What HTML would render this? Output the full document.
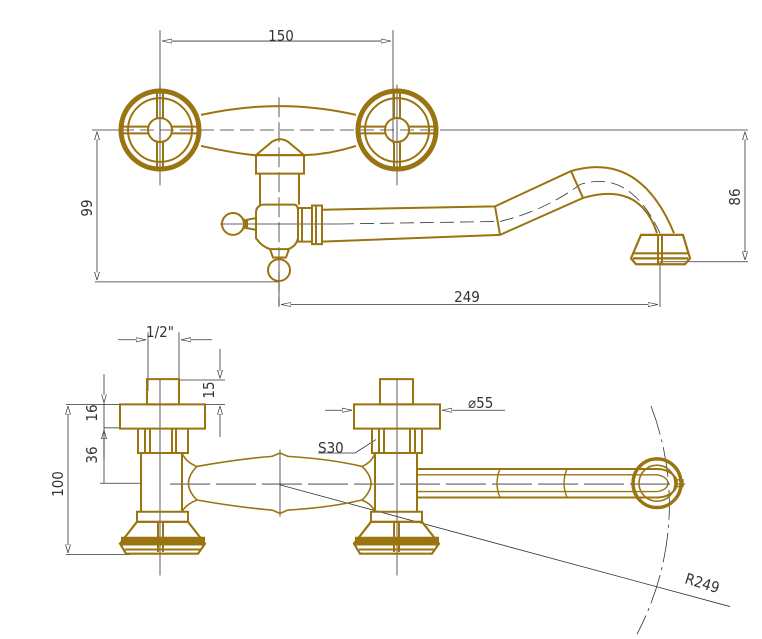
<!DOCTYPE html>
<html><head><meta charset="utf-8"><style>
html,body{margin:0;padding:0;background:#fff;width:762px;height:639px;overflow:hidden}
svg{display:block}
text{font-family:"DejaVu Sans Condensed","DejaVu Sans","Liberation Sans",sans-serif;fill:#333;font-size:15px}
g.t *{vector-effect:non-scaling-stroke}
</style></head><body>
<svg width="762" height="639" viewBox="0 0 762 639" xmlns="http://www.w3.org/2000/svg">
<defs>
<marker id="a" viewBox="0 0 10 6" refX="10" refY="3" markerWidth="10" markerHeight="6" orient="auto-start-reverse" markerUnits="userSpaceOnUse"><path d="M0,0.5 L10,3 L0,5.5 Z" fill="#fff" stroke="#444" stroke-width="0.8"/></marker>
</defs>
<g class="t" transform="matrix(1,0,0,0.839,0,-3.4)">
<g stroke="#333" stroke-width="0.8" fill="none">
<line x1="160" y1="40" x2="160" y2="175"/><line x1="393" y1="40" x2="393" y2="175"/>
<line x1="162" y1="53" x2="391" y2="53" marker-start="url(#a)" marker-end="url(#a)"/>
<line x1="92" y1="159" x2="120" y2="159"/>
<line x1="440" y1="159" x2="748" y2="159"/>
<line x1="97" y1="161" x2="97" y2="338" marker-start="url(#a)" marker-end="url(#a)"/>
<line x1="95" y1="340" x2="279" y2="340"/>
<line x1="745" y1="161" x2="745" y2="314" marker-start="url(#a)" marker-end="url(#a)"/>
<line x1="660" y1="316" x2="748" y2="316"/>
<line x1="660" y1="316" x2="660" y2="370"/>
<line x1="281" y1="367" x2="658" y2="367" marker-start="url(#a)" marker-end="url(#a)"/>
<line x1="279" y1="322" x2="279" y2="370"/>
<line x1="120" y1="159" x2="440" y2="159" stroke-dasharray="14,6"/>
<line x1="160" y1="105" x2="160" y2="225"/><line x1="397" y1="105" x2="397" y2="225"/>
<line x1="279" y1="120" x2="279" y2="368" stroke-dasharray="20,5"/>
<line x1="220" y1="271" x2="340" y2="271"/>
<path d="M340,271 L500,268 Q545,255 580,224 Q630,205 660,282" stroke-dasharray="14,6"/>
</g>

<g stroke="#9a7410" fill="none" stroke-width="2">
<ellipse cx="160" cy="159" rx="39" ry="46.5" stroke-width="5"/>
<ellipse cx="160" cy="159" rx="32" ry="38"/>
<ellipse cx="160" cy="159" rx="12" ry="14.3"/>
<path d="M122,155H148M122,163H148M172,155H198M172,163H198M157,114V145M163,114V145M157,173V204M163,173V204"/>
<ellipse cx="397" cy="159" rx="39" ry="46.5" stroke-width="5"/>
<ellipse cx="397" cy="159" rx="32" ry="38"/>
<ellipse cx="397" cy="159" rx="12" ry="14.3"/>
<path d="M359,155H385M359,163H385M409,155H435M409,163H435M394,114V145M400,114V145M394,173V204M400,173V204"/>
<path d="M201,141 Q280,120 356,141"/>
<path d="M201,178 Q240,188 256,189 M304,189 Q330,188 356,178"/>
<path d="M256,189 L272,173 Q280,167 288,173 L304,189 Z"/>
<rect x="256" y="189" width="48" height="22"/>
<path d="M260,211 V248 M299,211 V248"/>
<path d="M262,248 Q256,250 256,258 V288 Q262,298 270,301 H288 Q296,298 298,288 V256 Q298,248 294,248 H262"/>
<path d="M256,264 L247,266 V276 L256,278"/>
<ellipse cx="233" cy="271" rx="11" ry="13"/>
<path d="M244,265 Q248,271 244,277"/>
<path d="M270,301 L273,311 H286 L289,301"/>
<ellipse cx="279" cy="326" rx="11" ry="13"/>
<rect x="298" y="252" width="14" height="40"/>
<rect x="312" y="249" width="10" height="46"/>
<line x1="302" y1="252" x2="302" y2="292"/><line x1="316" y1="249" x2="316" y2="295"/>
<path d="M322,254 L495,250 L571,208 Q640,184 674,282"/>
<path d="M322,292 L500,284 L583,240 Q640,220 657,282"/>
<line x1="495" y1="250" x2="500" y2="284"/>
<line x1="571" y1="208" x2="583" y2="240"/>
<path d="M641,284 H683 L690,312 L685,319 H636 L631,312 Z" stroke-width="2.2"/>
<path d="M633,306H688M633,312H688" stroke-width="2.2"/>
<line x1="658" y1="284" x2="658" y2="318"/><line x1="662" y1="284" x2="662" y2="318"/>
</g>

<g stroke="#333" stroke-width="0.8" fill="none">
<line x1="148" y1="400" x2="148" y2="470"/><line x1="179" y1="400" x2="179" y2="470"/>
<line x1="118" y1="409" x2="146" y2="409" marker-end="url(#a)"/>
<line x1="212" y1="409" x2="181" y2="409" marker-end="url(#a)"/>
<line x1="179" y1="457" x2="225" y2="457"/>
<line x1="205" y1="486" x2="225" y2="486"/>
<line x1="220" y1="420" x2="220" y2="455" marker-end="url(#a)"/>
<line x1="220" y1="525" x2="220" y2="488" marker-end="url(#a)"/>
<line x1="104" y1="450" x2="104" y2="484" marker-end="url(#a)"/>
<line x1="104" y1="550" x2="104" y2="517" marker-end="url(#a)"/>
<line x1="104" y1="484" x2="104" y2="580"/>
<line x1="104" y1="514" x2="120" y2="514"/>
<line x1="66" y1="486" x2="120" y2="486"/>
<line x1="66" y1="665" x2="130" y2="665"/>
<line x1="68" y1="488" x2="68" y2="663" marker-start="url(#a)" marker-end="url(#a)"/>
<line x1="100" y1="580" x2="140" y2="580"/>
<line x1="325" y1="493" x2="352" y2="493" marker-end="url(#a)"/>
<line x1="505" y1="493" x2="442" y2="493" marker-end="url(#a)"/>
<line x1="318" y1="544" x2="355" y2="544"/>
<line x1="355" y1="544" x2="376" y2="528"/>
<line x1="160" y1="455" x2="160" y2="690"/><line x1="397" y1="455" x2="397" y2="690"/>
<line x1="280" y1="540" x2="280" y2="620"/>
<line x1="170" y1="581" x2="685" y2="581" stroke-dasharray="40,6"/>
<line x1="280" y1="582" x2="730" y2="727"/>
<path d="M651,488 A385,385 0 0 1 637,760" stroke-dasharray="30,5,3,5"/>
</g>

<g stroke="#9a7410" fill="none" stroke-width="2">
<rect x="147" y="456" width="32" height="30"/>
<rect x="120" y="486" width="85" height="29"/>
<path d="M138,515 V544 H188 V515 M145,515 V544 M176,515 V544 M150,515 V544 M172,515 V544"/>
<path d="M141,544 V614 M182,544 V614"/>
<rect x="137" y="614" width="51" height="12"/>
<path d="M137,626 L120,652 L126,664 H198 L205,652 L188,626 Z" stroke-width="2.2"/>
<rect x="122" y="645" width="82" height="8" fill="#9a7410"/>
<path d="M125,659H200"/>
<line x1="158" y1="626" x2="158" y2="662"/><line x1="163" y1="626" x2="163" y2="662"/>
<rect x="380" y="456" width="33" height="30"/>
<rect x="354" y="486" width="86" height="29"/>
<path d="M372,515 V544 H422 V515 M379,515 V544 M415,515 V544 M384,515 V544 M410,515 V544"/>
<path d="M375,544 V614 M417,544 V614"/>
<rect x="371" y="614" width="51" height="12"/>
<path d="M371,626 L354,652 L360,664 H432 L439,652 L422,626 Z" stroke-width="2.2"/>
<rect x="356" y="645" width="82" height="8" fill="#9a7410"/>
<path d="M359,659H434"/>
<line x1="394" y1="626" x2="394" y2="662"/><line x1="399" y1="626" x2="399" y2="662"/>
<path d="M182,544 Q186,555 197,560 Q240,551 272,548 L280,544 L288,548 Q330,551 362,560 Q372,555 375,544" stroke-width="1.6"/>
<path d="M182,614 Q186,605 197,600 Q240,609 272,612 L280,616 L288,612 Q330,609 362,600 Q372,605 375,614" stroke-width="1.6"/>
<path d="M197,560 Q180,580 197,600 M362,560 Q380,580 362,600" stroke-width="1.6"/>
<path d="M417,563 H657 A20,17 0 0 1 657,597 H417" stroke-width="2"/>
<path d="M417,570 H655 A13,10 0 0 1 655,590 H417" stroke-width="1.4"/>
<path d="M500,563 Q494,580 500,597 M567,563 Q561,580 567,597" stroke-width="1.4"/>
<ellipse cx="657" cy="580" rx="24" ry="29" stroke-width="3.5"/>
<ellipse cx="657" cy="580" rx="18" ry="21.5" stroke-width="1.6"/>
<rect x="676" y="576" width="7" height="8" stroke-width="1.4"/>
</g>
</g>

<text x="281" y="41" font-size="14" text-anchor="middle">150</text>
<text transform="translate(92,208) rotate(-90)" text-anchor="middle" font-size="16">99</text>
<text transform="translate(740,197) rotate(-90)" text-anchor="middle" font-size="16">86</text>
<text x="467" y="302" text-anchor="middle" font-size="17">249</text>
<text x="160" y="337" text-anchor="middle" font-size="17">1/2"</text>
<text transform="translate(214,390) rotate(-90)" text-anchor="middle" font-size="16">15</text>
<text transform="translate(97,413) rotate(-90)" text-anchor="middle" font-size="16">16</text>
<text transform="translate(97,455) rotate(-90)" text-anchor="middle" font-size="16">36</text>
<text transform="translate(63,484) rotate(-90)" text-anchor="middle" font-size="16">100</text>
<text x="468" y="408" font-size="17">⌀55</text>
<text x="318" y="453" font-size="14">S30</text>
<text transform="translate(684,583) rotate(17)" font-size="17">R249</text>
</svg>
</body></html>
